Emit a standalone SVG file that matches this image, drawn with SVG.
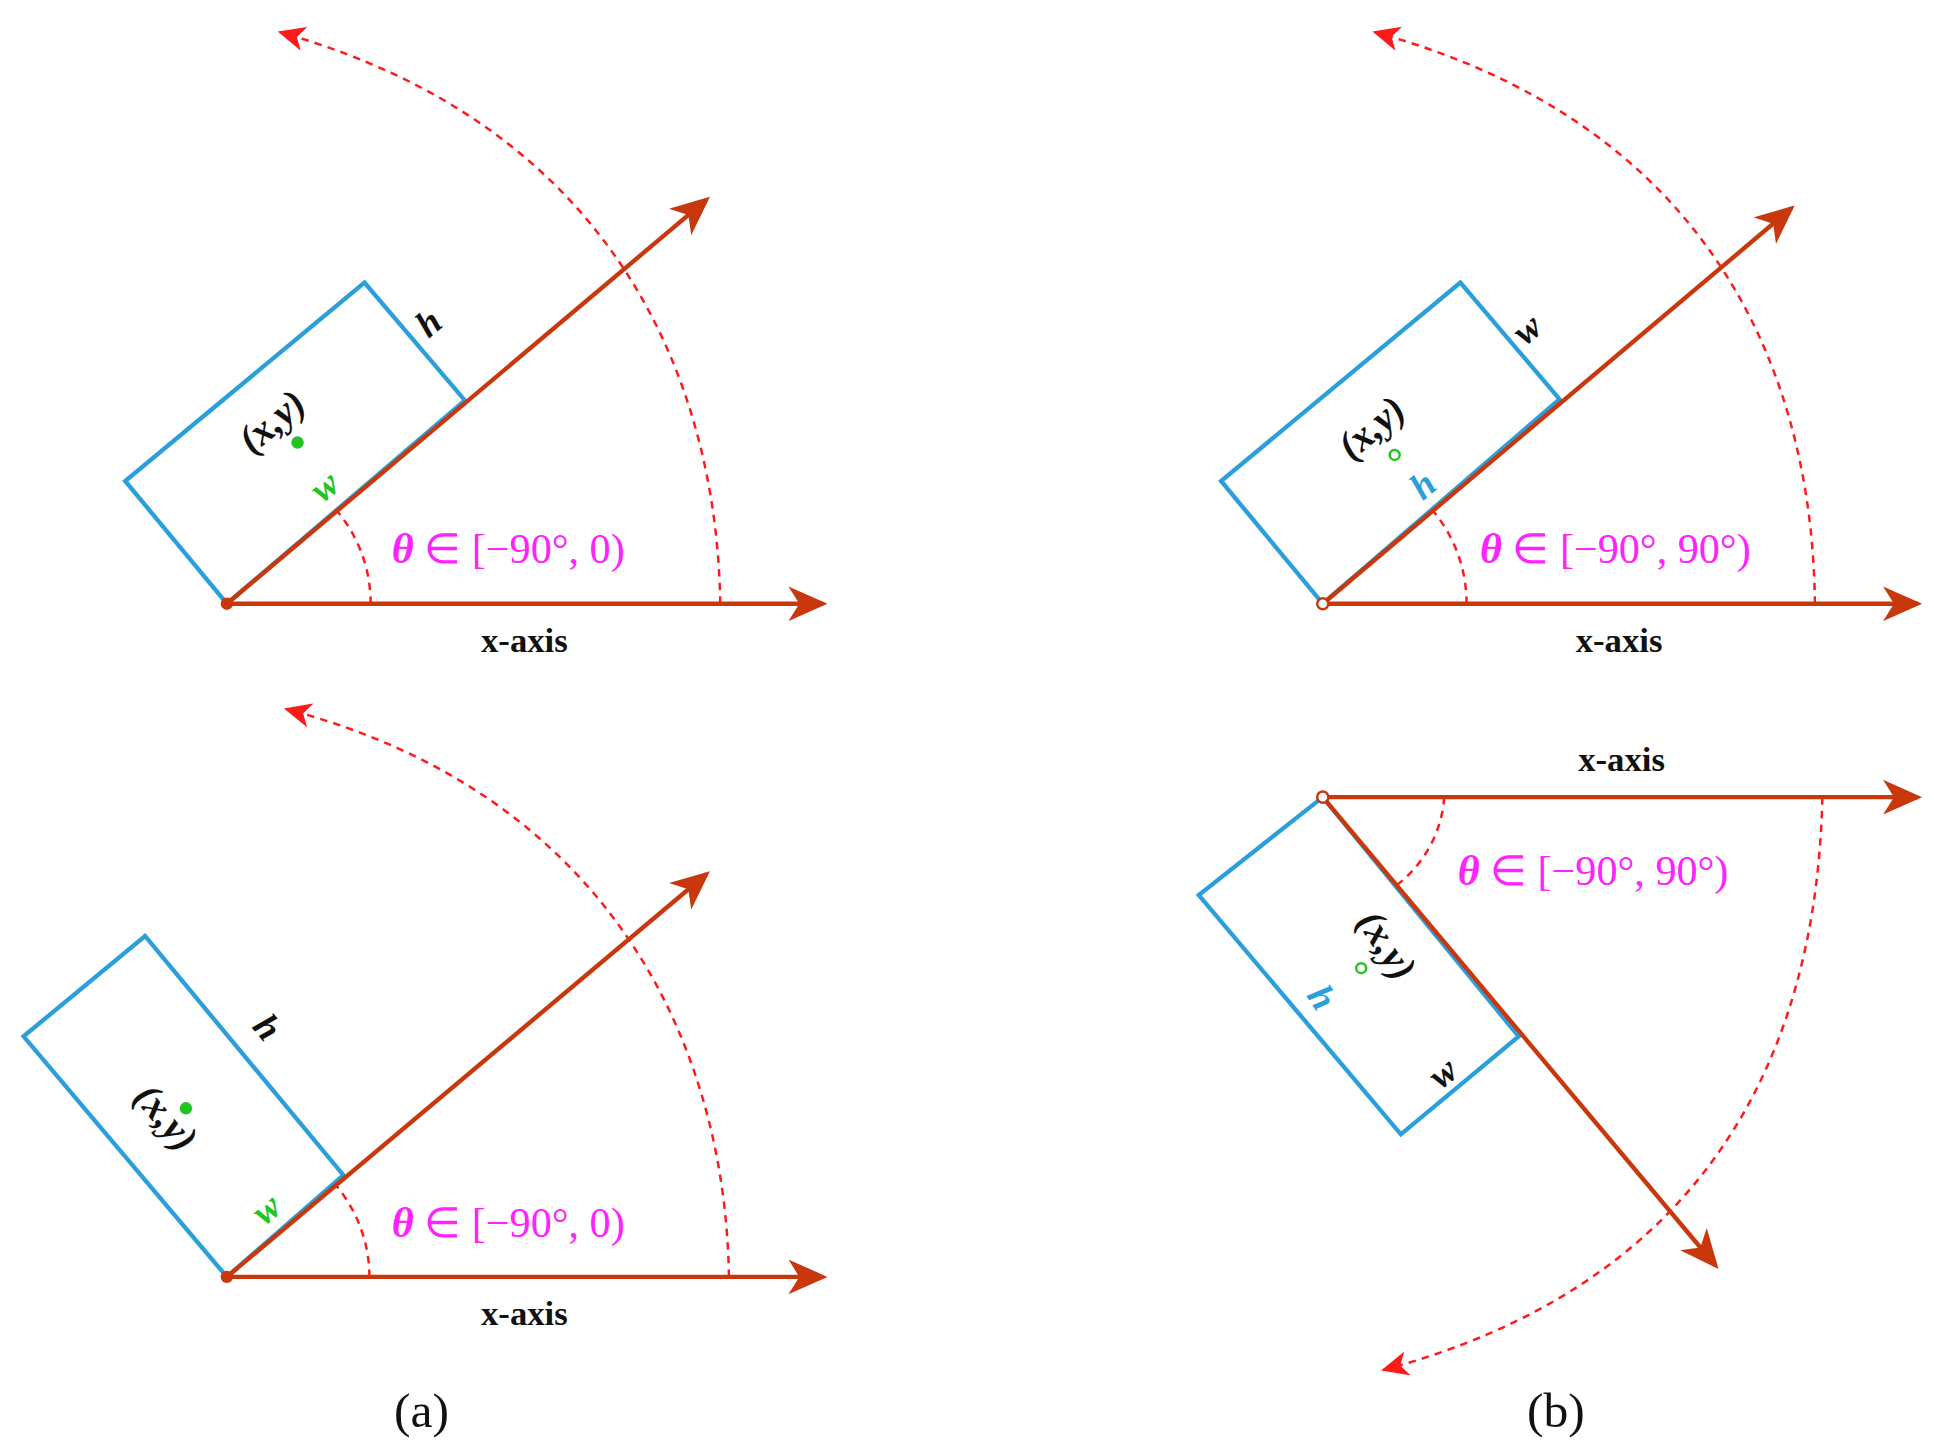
<svg xmlns="http://www.w3.org/2000/svg" width="1934" height="1449" viewBox="0 0 1934 1449">
<style>
.ax{stroke:#c8380c;stroke-width:3.5;fill:none;marker-end:url(#ah)}
.rc{stroke:#2a9fdc;stroke-width:3.5;fill:none;stroke-linejoin:miter}
.ds{stroke:#ff1a1a;stroke-width:2;fill:none;stroke-dasharray:6,5}
.dsa{stroke:#ff1a1a;stroke-width:2;fill:none;stroke-dasharray:6,5;marker-end:url(#rh)}
.m{font-family:"Liberation Serif",serif;font-style:italic;font-weight:bold}
.th{font-family:"Liberation Serif",serif;font-size:34px;fill:#ff22ff}
.xa{font-family:"Liberation Serif",serif;font-weight:bold;font-size:28px;fill:#111}
.cap{font-family:"Liberation Serif",serif;font-size:40px;fill:#111}
</style>
<defs>
<marker id="ah" markerWidth="10" markerHeight="8" refX="8" refY="4" orient="auto" markerUnits="strokeWidth"><path d="M0,0 L9,4 L0,8 L2.5,4 Z" fill="#c8380c"/></marker>
<marker id="rh" markerWidth="12" markerHeight="10" refX="10" refY="5" orient="auto" markerUnits="strokeWidth"><path d="M0,0 L11,5 L0,10 L3,5 Z" fill="#ff1a1a"/></marker>
</defs>
<g transform="scale(1.2397)">
<g id="panel-a-top">
<polygon class="rc" points="183,487 101,388 294,228 375,323"/>
<path class="ds" d="M299,487 A116,116 0 0 0 270,410"/>
<path class="dsa" d="M581,487 C578,300 490,100 226,26"/>
<g id="conn-a1"><line class="ax" x1="183" y1="487" x2="664" y2="487"/><line class="ax" x1="183" y1="487" x2="570" y2="161"/></g>
<circle cx="183" cy="487" r="5" fill="#c8380c"/>
<text class="m" font-size="30" fill="#111" transform="translate(352,268) rotate(-40)" text-anchor="middle">h</text>
<text class="m" font-size="32" fill="#111" transform="translate(226,348) rotate(-40)" text-anchor="middle">(x,y)</text>
<circle cx="240" cy="357" r="5" fill="#22c422"/>
<text class="m" font-size="30" fill="#22c422" transform="translate(268,400) rotate(-40)" text-anchor="middle">w</text>
<text class="th" x="410" y="454" text-anchor="middle"><tspan font-style="italic" font-weight="bold">θ</tspan> ∈ [−90°, 0)</text>
<text class="xa" x="423" y="526" text-anchor="middle">x-axis</text>
</g>
<g id="panel-a-bottom">
<polygon class="rc" points="183,1030 19,836 117,755 277,948"/>
<path class="ds" d="M298,1030 A115,115 0 0 0 270,955"/>
<path class="dsa" d="M588,1030 C585,840 490,640 231,572"/>
<g id="conn-a2"><line class="ax" x1="183" y1="1030" x2="664" y2="1030"/><line class="ax" x1="183" y1="1030" x2="570" y2="705"/></g>
<circle cx="183" cy="1030" r="5" fill="#c8380c"/>
<text class="m" font-size="30" fill="#111" transform="translate(208,835) rotate(50)" text-anchor="middle">h</text>
<text class="m" font-size="32" fill="#111" transform="translate(126,908) rotate(50)" text-anchor="middle">(x,y)</text>
<circle cx="150" cy="894" r="5" fill="#22c422"/>
<text class="m" font-size="30" fill="#22c422" transform="translate(221,983) rotate(-40)" text-anchor="middle">w</text>
<text class="th" x="410" y="998" text-anchor="middle"><tspan font-style="italic" font-weight="bold">θ</tspan> ∈ [−90°, 0)</text>
<text class="xa" x="423" y="1069" text-anchor="middle">x-axis</text>
</g>
<g id="panel-b-top">
<polygon class="rc" points="1067,487 985,388 1178,228 1258,322"/>
<path class="ds" d="M1183,487 A116,116 0 0 0 1155,411"/>
<path class="dsa" d="M1464,487 C1462,300 1380,100 1109,26"/>
<g id="conn-b1"><line class="ax" x1="1067" y1="487" x2="1547" y2="487"/><line class="ax" x1="1067" y1="487" x2="1445" y2="168"/></g>
<circle cx="1067" cy="487" r="4.5" fill="#fff" stroke="#c8380c" stroke-width="2"/>
<text class="m" font-size="30" fill="#111" transform="translate(1238,273) rotate(-40)" text-anchor="middle">w</text>
<text class="m" font-size="32" fill="#111" transform="translate(1113,353) rotate(-40)" text-anchor="middle">(x,y)</text>
<circle cx="1125" cy="367" r="4" fill="#fff" stroke="#22c422" stroke-width="2"/>
<text class="m" font-size="30" fill="#2a9fdc" transform="translate(1154,399) rotate(-40)" text-anchor="middle">h</text>
<text class="th" x="1303" y="454" text-anchor="middle"><tspan font-style="italic" font-weight="bold">θ</tspan> ∈ [−90°, 90°)</text>
<text class="xa" x="1306" y="526" text-anchor="middle">x-axis</text>
</g>
<g id="panel-b-bottom">
<polygon class="rc" points="1067,643 967,722 1130,915 1225,836"/>
<path class="ds" d="M1165,643 A98,98 0 0 1 1124,716"/>
<path class="dsa" d="M1470,643 C1465,870 1360,1040 1116,1105"/>
<g id="conn-b2"><line class="ax" x1="1067" y1="643" x2="1547" y2="643"/><line class="ax" x1="1067" y1="643" x2="1384" y2="1021"/></g>
<circle cx="1067" cy="643" r="4.5" fill="#fff" stroke="#c8380c" stroke-width="2"/>
<text class="xa" x="1308" y="622" text-anchor="middle">x-axis</text>
<text class="th" x="1285" y="714" text-anchor="middle"><tspan font-style="italic" font-weight="bold">θ</tspan> ∈ [−90°, 90°)</text>
<text class="m" font-size="32" fill="#111" transform="translate(1110,768) rotate(57)" text-anchor="middle">(x,y)</text>
<circle cx="1098" cy="781" r="4" fill="#fff" stroke="#22c422" stroke-width="2"/>
<text class="m" font-size="30" fill="#2a9fdc" transform="translate(1058,810) rotate(57)" text-anchor="middle">h</text>
<text class="m" font-size="30" fill="#111" transform="translate(1170,873) rotate(-40)" text-anchor="middle">w</text>
</g>
<text class="cap" x="340" y="1151" text-anchor="middle">(a)</text>
<text class="cap" x="1255" y="1151" text-anchor="middle">(b)</text>
</g>
</svg>
